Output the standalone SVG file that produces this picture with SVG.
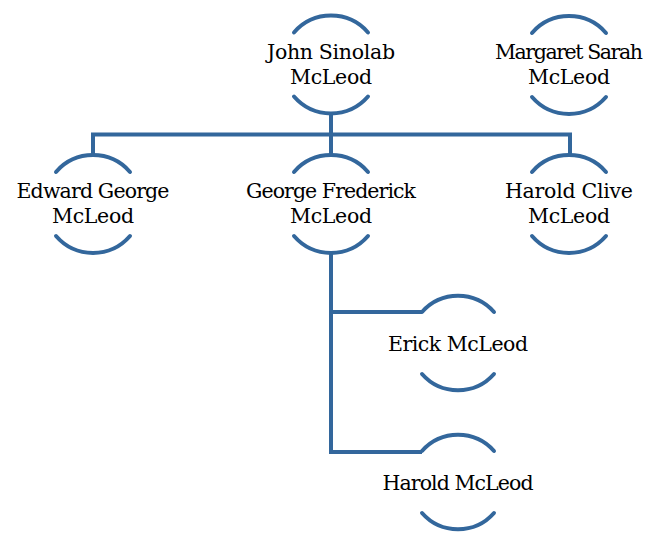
<svg xmlns="http://www.w3.org/2000/svg" width="654" height="533" viewBox="0 0 654 533">
<style>
.arc{fill:none;stroke:#33679c;stroke-width:4;stroke-linecap:round}
.con{fill:none;stroke:#33679c;stroke-width:4;stroke-linejoin:miter}
.t{font-family:'DejaVu Serif','Liberation Serif',serif;font-size:20.5px;fill:#000;text-anchor:middle}
</style>
<rect width="654" height="533" fill="#fff"/>
<g id="connectors">
<path class="con" d="M93 155 V134.5 H570 V155"/>
<path class="con" d="M331 114 V155"/>
<path class="con" d="M331 253 V452 H422"/>
<path class="con" d="M331 312 H422"/>
</g>
<g id="john">
<path class="arc" d="M294 32.5 A49 49 0 0 1 368 32.5"/>
<path class="arc" d="M294 96.5 A49 49 0 0 0 368 96.5"/>
<text class="t" x="331" y="59" textLength="128" lengthAdjust="spacing">John Sinolab</text>
<text class="t" x="331" y="84" textLength="82" lengthAdjust="spacing">McLeod</text>
</g>
<g id="margaret">
<path class="arc" d="M532 33 A49 49 0 0 1 606 33"/>
<path class="arc" d="M532 97 A49 49 0 0 0 606 97"/>
<text class="t" x="569" y="59" textLength="148" lengthAdjust="spacing">Margaret Sarah</text>
<text class="t" x="569" y="84" textLength="82" lengthAdjust="spacing">McLeod</text>
</g>
<g id="edward">
<path class="arc" d="M56 172 A49 49 0 0 1 130 172"/>
<path class="arc" d="M56 236 A49 49 0 0 0 130 236"/>
<text class="t" x="93" y="198" textLength="153" lengthAdjust="spacing">Edward George</text>
<text class="t" x="93" y="223" textLength="82" lengthAdjust="spacing">McLeod</text>
</g>
<g id="george">
<path class="arc" d="M294 172 A49 49 0 0 1 368 172"/>
<path class="arc" d="M294 236 A49 49 0 0 0 368 236"/>
<text class="t" x="331" y="198" textLength="170" lengthAdjust="spacing">George Frederick</text>
<text class="t" x="331" y="223" textLength="82" lengthAdjust="spacing">McLeod</text>
</g>
<g id="harold-clive">
<path class="arc" d="M532 172 A49 49 0 0 1 606 172"/>
<path class="arc" d="M532 236 A49 49 0 0 0 606 236"/>
<text class="t" x="569" y="198" textLength="128" lengthAdjust="spacing">Harold Clive</text>
<text class="t" x="569" y="223" textLength="82" lengthAdjust="spacing">McLeod</text>
</g>
<g id="erick">
<path class="arc" d="M422 312 A48 48 0 0 1 494 312"/>
<path class="arc" d="M422 374 A48 48 0 0 0 494 374"/>
<text class="t" x="458" y="351" textLength="140" lengthAdjust="spacing">Erick McLeod</text>
</g>
<g id="harold">
<path class="arc" d="M422 451 A48 48 0 0 1 494 451"/>
<path class="arc" d="M422 513 A48 48 0 0 0 494 513"/>
<text class="t" x="458" y="490" textLength="151" lengthAdjust="spacing">Harold McLeod</text>
</g>
</svg>
